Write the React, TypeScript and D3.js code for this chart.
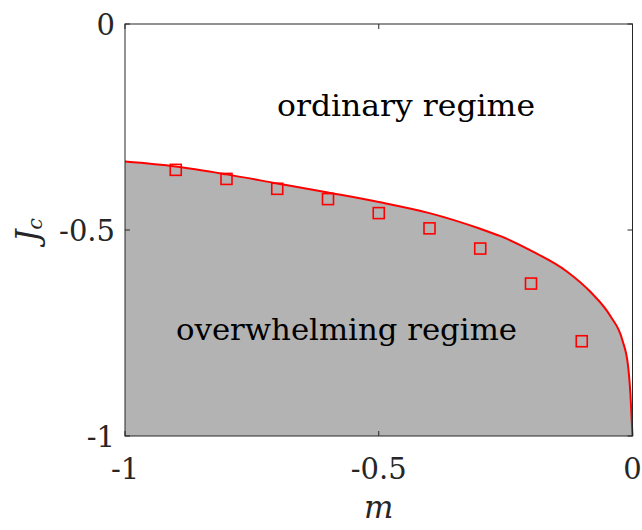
import * as d3 from "d3";
import { useEffect, useRef } from "react";

// critical line J_c(m)
const curveM = [-1, -0.9, -0.8, -0.7, -0.6, -0.5, -0.4, -0.3, -0.26, -0.2, -0.13, -0.083, -0.043, -0.02, -0.0085, -0.004, 0];
const curveJ = [-0.334, -0.346, -0.365, -0.387, -0.409, -0.432, -0.459, -0.497, -0.515, -0.55, -0.6, -0.65, -0.71, -0.767, -0.832, -0.9, -1];

// simulation markers
const simM = [-0.9, -0.8, -0.7, -0.6, -0.5, -0.4, -0.3, -0.2, -0.1];
const simJ = [-0.354, -0.376, -0.4, -0.425, -0.459, -0.496, -0.545, -0.63, -0.77];

const xTicks = [-1, -0.5, 0];
const yTicks = [-1, -0.5, 0];
const tickLabel = (v: number) => String(v);

const font = "DejaVu Serif";
const axisColor = "#262626";

export default function App() {
  const ref = useRef<SVGSVGElement>(null);

  useEffect(() => {
    const margin = { top: 24, right: 10, bottom: 94, left: 125 };
    const width = 632.5 - margin.left;
    const height = 436 - margin.top;

    const root = d3.select(ref.current);
    root.selectAll("*").remove();
    const svg = root.append("g").attr("transform", `translate(${margin.left},${margin.top})`);

    const x = d3.scaleLinear().domain([-1, 0]).range([0, width]);
    const y = d3.scaleLinear().domain([-1, 0]).range([height, 0]);

    const pts = curveM.map((m, i) => [m, curveJ[i]] as [number, number]);

    const txt = (sel: d3.Selection<SVGTextElement, unknown, null, undefined>, size: number) =>
      sel.style("font-family", font).attr("font-size", size);

    // shaded overwhelming region
    const area = d3
      .area<[number, number]>()
      .x((d) => x(d[0]))
      .y0(y(-1))
      .y1((d) => y(d[1]))
      .curve(d3.curveMonotoneX);
    svg.append("path").datum(pts).attr("d", area).attr("fill", "#b3b3b3");

    // red boundary
    const line = d3
      .line<[number, number]>()
      .x((d) => x(d[0]))
      .y((d) => y(d[1]))
      .curve(d3.curveMonotoneX);
    svg
      .append("path")
      .datum(pts)
      .attr("d", line)
      .attr("fill", "none")
      .attr("stroke", "#ff0000")
      .attr("stroke-width", 2);

    // squares
    const s = 11;
    svg
      .selectAll("rect.sim")
      .data(simM)
      .join("rect")
      .attr("class", "sim")
      .attr("x", (d) => x(d) - s / 2)
      .attr("y", (d, i) => y(simJ[i]) - s / 2)
      .attr("width", s)
      .attr("height", s)
      .attr("fill", "none")
      .attr("stroke", "#ff0000")
      .attr("stroke-width", 1.6);

    // box
    svg
      .append("rect")
      .attr("x", 0)
      .attr("y", 0)
      .attr("width", width)
      .attr("height", height)
      .attr("fill", "none")
      .attr("stroke", axisColor)
      .attr("stroke-width", 1);

    // inner ticks on all sides
    const tl = 5;
    xTicks.forEach((t) => {
      svg.append("line").attr("x1", x(t)).attr("x2", x(t)).attr("y1", height).attr("y2", height - tl).attr("stroke", axisColor);
      svg.append("line").attr("x1", x(t)).attr("x2", x(t)).attr("y1", 0).attr("y2", tl).attr("stroke", axisColor);
      txt(svg.append("text"), 29)
        .attr("x", x(t))
        .attr("y", height + 43)
        .attr("text-anchor", "middle")
        .attr("fill", axisColor)
        .text(tickLabel(t));
    });
    yTicks.forEach((t) => {
      svg.append("line").attr("x1", 0).attr("x2", tl).attr("y1", y(t)).attr("y2", y(t)).attr("stroke", axisColor);
      svg.append("line").attr("x1", width).attr("x2", width - tl).attr("y1", y(t)).attr("y2", y(t)).attr("stroke", axisColor);
      txt(svg.append("text"), 29)
        .attr("x", -10)
        .attr("y", y(t) + 11)
        .attr("text-anchor", "end")
        .attr("fill", axisColor)
        .text(tickLabel(t));
    });

    // axis labels
    txt(svg.append("text"), 31)
      .attr("x", x(-0.5))
      .attr("y", height + 82)
      .attr("text-anchor", "middle")
      .attr("font-style", "italic")
      .attr("fill", axisColor)
      .text("m");

    const yl = txt(svg.append("text"), 31)
      .attr("transform", `translate(${-87},${y(-0.5)}) rotate(-90)`)
      .attr("text-anchor", "middle")
      .attr("font-style", "italic")
      .attr("fill", axisColor);
    yl.append("tspan").text("J");
    yl.append("tspan").attr("font-size", 21).attr("dy", 4).text("c");

    // regime labels
    txt(svg.append("text"), 29)
      .attr("x", 152)
      .attr("y", 92)
      .attr("textLength", 258)
      .attr("lengthAdjust", "spacingAndGlyphs")
      .attr("fill", "#000")
      .text("ordinary regime");
    txt(svg.append("text"), 29)
      .attr("x", 51)
      .attr("y", 316)
      .attr("textLength", 341)
      .attr("lengthAdjust", "spacingAndGlyphs")
      .attr("fill", "#000")
      .text("overwhelming regime");
  }, []);

  return (
    <svg
      ref={ref}
      width={642}
      height={530}
      style={{ position: "absolute", left: 0, top: 0, background: "#fff" }}
    />
  );
}
